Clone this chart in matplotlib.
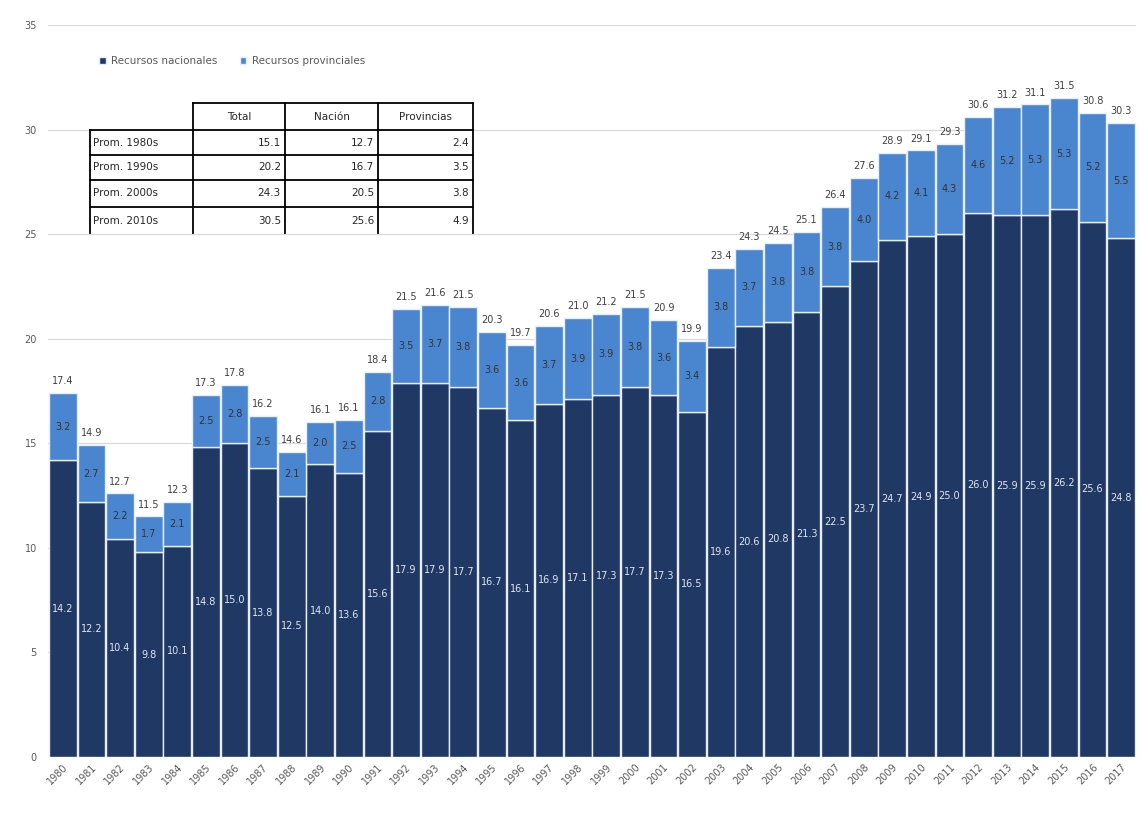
import matplotlib.pyplot as plt
import numpy as np
from matplotlib.lines import Line2D
from matplotlib.patches import Rectangle

# datos
years = [str(y) for y in range(1980, 2018)]
nacionales = [14.2, 12.2, 10.4, 9.8, 10.1, 14.8, 15.0, 13.8, 12.5, 14.0,
              13.6, 15.6, 17.9, 17.9, 17.7, 16.7, 16.1, 16.9, 17.1, 17.3,
              17.7, 17.3, 16.5, 19.6, 20.6, 20.8, 21.3, 22.5, 23.7, 24.7,
              24.9, 25.0, 26.0, 25.9, 25.9, 26.2, 25.6, 24.8]
provinciales = [3.2, 2.7, 2.2, 1.7, 2.1, 2.5, 2.8, 2.5, 2.1, 2.0,
                2.5, 2.8, 3.5, 3.7, 3.8, 3.6, 3.6, 3.7, 3.9, 3.9,
                3.8, 3.6, 3.4, 3.8, 3.7, 3.8, 3.8, 3.8, 4.0, 4.2,
                4.1, 4.3, 4.6, 5.2, 5.3, 5.3, 5.2, 5.5]
totales = [17.4, 14.9, 12.7, 11.5, 12.3, 17.3, 17.8, 16.2, 14.6, 16.1,
           16.1, 18.4, 21.5, 21.6, 21.5, 20.3, 19.7, 20.6, 21.0, 21.2,
           21.5, 20.9, 19.9, 23.4, 24.3, 24.5, 25.1, 26.4, 27.6, 28.9,
           29.1, 29.3, 30.6, 31.2, 31.1, 31.5, 30.8, 30.3]

# tabla de promedios
tabla_cols = ['Total', 'Nación', 'Provincias']
tabla_filas = ['Prom. 1980s', 'Prom. 1990s', 'Prom. 2000s', 'Prom. 2010s']
tabla_vals = [['15.1', '12.7', '2.4'],
              ['20.2', '16.7', '3.5'],
              ['24.3', '20.5', '3.8'],
              ['30.5', '25.6', '4.9']]

c_nac = '#203864'
c_prov = '#4a86d0'
c_txt = '#595959'

W, H = 1140, 823
fig = plt.figure(figsize=(W / 100, H / 100), dpi=100)
ax = fig.add_axes([48 / W, 1 - 757 / H, (1136 - 48) / W, (757 - 25) / H])

x = np.arange(len(years))
nac = np.array(nacionales)
prov = np.array(provinciales)

b1 = ax.bar(x, nac, width=0.97, color=c_nac, edgecolor='#e8eef8', linewidth=1.0,
            label='Recursos nacionales', zorder=2)
b2 = ax.bar(x, prov, bottom=nac, width=0.97, color=c_prov, edgecolor='#e8eef8',
            linewidth=1.0, label='Recursos provinciales', zorder=2)

for i in range(len(years)):
    ax.text(x[i], nac[i] / 2, f'{nac[i]:.1f}', ha='center', va='center',
            fontsize=7, color='#dfe6f0', zorder=3)
    ax.text(x[i], nac[i] + prov[i] / 2, f'{prov[i]:.1f}', ha='center', va='center',
            fontsize=7, color='#333333', zorder=3)
    ax.annotate(f'{totales[i]:.1f}', (x[i], nac[i] + prov[i]), xytext=(0, 5),
                textcoords='offset points', ha='center', va='bottom',
                fontsize=7, color='#404040', zorder=3)

ax.set_xlim(-0.52, len(years) - 0.48)
ax.set_ylim(0, 35)
ax.set_yticks(range(0, 36, 5))
ax.set_xticks(x)
ax.set_xticklabels(years, rotation=45, ha='right', rotation_mode='anchor')
ax.tick_params(axis='both', length=0, labelsize=7, colors=c_txt)
ax.tick_params(axis='y', pad=8)
ax.grid(axis='y', color='#d9d9d9', linewidth=0.9, zorder=0)
ax.set_axisbelow(True)
for s in ax.spines.values():
    s.set_visible(False)

leg = ax.legend(loc='upper left', bbox_to_anchor=(90 / W, 1 - 47 / H),
                bbox_transform=fig.transFigure, ncol=2, frameon=False,
                fontsize=7.5, handlelength=0.6, handleheight=0.6,
                handletextpad=0.5, columnspacing=2.2)
for t in leg.get_texts():
    t.set_color(c_txt)


# tabla dibujada en pixeles de la figura
def fx(px):
    return px / W


def fy(py):
    return 1 - py / H


col_x = [90, 193, 285, 378, 473]
row_y = [103, 130, 155, 180, 207, 235]

fig.add_artist(Rectangle((fx(193), fy(130)), fx(473) - fx(193), fy(103) - fy(130),
                         transform=fig.transFigure, facecolor='white', edgecolor='none', zorder=4))
fig.add_artist(Rectangle((fx(90), fy(233)), fx(473) - fx(90), fy(130) - fy(233),
                         transform=fig.transFigure, facecolor='white', edgecolor='none', zorder=4))

lw = 1.3
def line(x0, y0, x1, y1):
    fig.add_artist(Line2D([fx(x0), fx(x1)], [fy(y0), fy(y1)], transform=fig.transFigure,
                          color='black', linewidth=lw, zorder=5))

line(193, 103, 473, 103)
for yy in row_y[1:5]:
    line(90, yy, 473, yy)
line(90, 130, 90, 233)
for xx in col_x[1:]:
    line(xx, 103, xx, 233)

for j, c in enumerate(tabla_cols):
    fig.text(fx((col_x[j + 1] + col_x[j + 2]) / 2), fy(116.5), c, ha='center', va='center',
             fontsize=7.5, color='#262626', zorder=6)
for i, r in enumerate(tabla_filas):
    yc = (row_y[i + 1] + row_y[i + 2]) / 2
    fig.text(fx(93), fy(yc), r, ha='left', va='center', fontsize=7.5,
             color='#262626', zorder=6)
    for j, v in enumerate(tabla_vals[i]):
        fig.text(fx(col_x[j + 2] - 4), fy(yc), v, ha='right', va='center',
                 fontsize=7.5, color='#262626', zorder=6)

plt.savefig('out.png', dpi=100)
